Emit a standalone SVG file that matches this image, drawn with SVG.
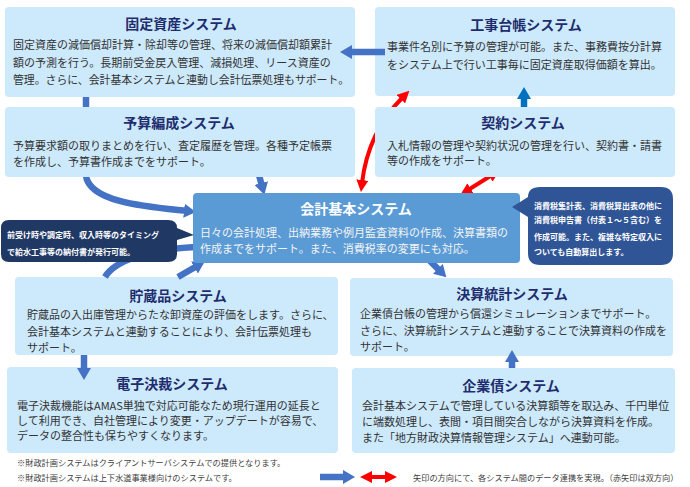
<svg xmlns="http://www.w3.org/2000/svg" width="690" height="487" viewBox="0 0 690 487">
<defs>
<marker id="bh" markerUnits="userSpaceOnUse" viewBox="0 0 12 14" markerWidth="12" markerHeight="14" refX="3" refY="7" orient="auto"><path d="M0,0 L12,7 L0,14 Z" fill="#4472c4"/></marker>
<marker id="bh2" markerUnits="userSpaceOnUse" viewBox="0 0 12 14" markerWidth="12" markerHeight="14" refX="3" refY="7" orient="auto"><path d="M0,0 L12,7 L0,14 Z" fill="#0070c0"/></marker>
<marker id="rh" markerUnits="userSpaceOnUse" viewBox="0 0 12 12" markerWidth="12" markerHeight="12" refX="3" refY="6" orient="auto-start-reverse"><path d="M0,0 L12,6 L0,12 Z" fill="#ff0000"/></marker>
</defs>
<style>
.box{fill:#cde9fc}
.main{fill:#5b9bd5}
.t{font-family:"Noto Sans CJK JP",sans-serif;font-size:14px;font-weight:bold;fill:#1f2d6e;text-anchor:middle}
.b{font-family:"Noto Sans CJK JP",sans-serif;font-size:11px;fill:#333333}
.mt{font-family:"Noto Sans CJK JP",sans-serif;font-size:14px;font-weight:bold;fill:#ffffff;text-anchor:middle}
.mb{font-family:"Noto Sans CJK JP",sans-serif;font-size:11px;fill:#f4f4f4}
.c{font-family:"Noto Sans CJK JP",sans-serif;font-size:8px;font-weight:bold;fill:#ffffff}
.n{font-family:"Noto Sans CJK JP",sans-serif;font-size:8.2px;fill:#404040}
.bl{fill:none;stroke:#4472c4;stroke-width:6.5}
.rd{fill:none;stroke:#ff0000;stroke-width:4}
</style>
<rect width="690" height="487" fill="#ffffff"/>

<g id="kotei">
<rect class="box" x="5" y="7" width="350" height="90" rx="4"/>
<text class="t" x="181" y="29">固定資産システム</text>
<text class="b" x="13" y="49">固定資産の減価償却計算・除却等の管理、将来の減価償却額累計</text>
<text class="b" x="13" y="67">額の予測を行う。長期前受金戻入管理、減損処理、リース資産の</text>
<text class="b" x="13" y="84" textLength="336" lengthAdjust="spacingAndGlyphs">管理。さらに、会計基本システムと連動し会計伝票処理もサポート。</text>
</g>
<g id="koji">
<rect class="box" x="375" y="7" width="300" height="89" rx="4"/>
<text class="t" x="526" y="30">工事台帳システム</text>
<text class="b" x="387" y="51">事業件名別に予算の管理が可能。また、事務費按分計算</text>
<text class="b" x="387" y="69">をシステム上で行い工事毎に固定資産取得価額を算出。</text>
</g>
<g id="chozo">
<rect class="box" x="15" y="277" width="323" height="78" rx="4"/>
<text class="t" x="178" y="301">貯蔵品システム</text>
<text class="b" x="27" y="319">貯蔵品の入出庫管理からたな卸資産の評価をします。さらに、</text>
<text class="b" x="27" y="336">会計基本システムと連動することにより、会計伝票処理も</text>
<text class="b" x="27" y="352">サポート。</text>
</g>
<g id="denshi">
<rect class="box" x="7" y="367" width="331" height="86" rx="4"/>
<text class="t" x="172" y="389">電子決裁システム</text>
<text class="b" x="17" y="410" fill="#262626">電子決裁機能はAMAS単独で対応可能なため現行運用の延長と</text>
<text class="b" x="17" y="425">して利用でき、自社管理により変更・アップデートが容易で、</text>
<text class="b" x="17" y="440">データの整合性も保ちやすくなります。</text>
</g>
<g id="kessan">
<rect class="box" x="350" y="278" width="323" height="78" rx="4"/>
<text class="t" x="512" y="299">決算統計システム</text>
<text class="b" x="360" y="318">企業債台帳の管理から償還シミュレーションまでサポート。</text>
<text class="b" x="360" y="335">さらに、決算統計システムと連動することで決算資料の作成を</text>
<text class="b" x="360" y="351">サポート。</text>
</g>
<g id="kigyosai">
<rect class="box" x="352" y="368" width="323" height="85" rx="4"/>
<text class="t" x="511" y="391">企業債システム</text>
<text class="b" x="362" y="410">会計基本システムで管理している決算額等を取込み、千円単位</text>
<text class="b" x="362" y="426">に端数処理し、表間・項目間突合しながら決算資料を作成。</text>
<text class="b" x="362" y="442">また「地方財政決算情報管理システム」へ連動可能。</text>
</g>

<g id="connectors">
<path class="bl" d="M385,52 L349,52" marker-end="url(#bh)"/>
<path class="bl" d="M86,97 L86,176 C90,203 150,207 187,211" marker-end="url(#bh)"/>
<path class="bl" d="M257,168 L262,186" marker-end="url(#bh)"/>
<path class="bl" d="M105,277 C115,260 150,249 196,247"/>
<path class="bl" d="M178,277 L197,266" marker-end="url(#bh)"/>
<path class="bl" d="M84,355 L84,371" marker-end="url(#bh)"/>
<path class="bl" d="M424,255 L440,271" marker-end="url(#bh)"/>
<path class="bl" d="M512,368 L512,359" marker-end="url(#bh)"/>
<path fill="none" stroke="#0070c0" stroke-width="6.5" d="M524,112 L524,96" marker-end="url(#bh2)"/>
<path class="rd" d="M362,183 Q368,132 403,97" marker-start="url(#rh)" marker-end="url(#rh)"/>
<path class="rd" d="M468,190 L492,175" marker-start="url(#rh)" marker-end="url(#rh)"/>
</g>

<g id="yosan">
<rect class="box" x="5" y="107" width="350" height="70" rx="4"/>
<text class="t" x="179" y="128">予算編成システム</text>
<text class="b" x="13" y="150">予算要求額の取りまとめを行い、査定履歴を管理。各種予定帳票</text>
<text class="b" x="13" y="166">を作成し、予算書作成までをサポート。</text>
</g>
<g id="keiyaku">
<rect class="box" x="375" y="107" width="300" height="70" rx="4"/>
<text class="t" x="523" y="128">契約システム</text>
<text class="b" x="387" y="150">入札情報の管理や契約状況の管理を行い、契約書・請書</text>
<text class="b" x="387" y="165">等の作成をサポート。</text>
</g>
<g id="kaikei">
<rect class="main" x="193" y="193" width="327" height="70" rx="4"/>
<text class="mt" x="356" y="214">会計基本システム</text>
<text class="mb" x="200" y="237">日々の会計処理、出納業務や例月監査資料の作成、決算書類の</text>
<text class="mb" x="200" y="253">作成までをサポート。また、消費税率の変更にも対応。</text>
</g>
<g id="callout-left">
<path d="M9,220 H168 Q177,220 177,228 L194,235 L177,240 V254 Q177,262 168,262 H9 Q1,262 1,254 V228 Q1,220 9,220 Z" fill="#203864"/>
<text class="c" x="7" y="238">前受け時や調定時、収入時等のタイミング</text>
<text class="c" x="7" y="255">で給水工事等の納付書が発行可能。</text>
</g>
<g id="callout-right">
<path d="M540,187 H661 Q673,187 673,199 V253 Q673,265 661,265 H540 Q528,265 528,253 V217 L512,207 L528,197 Q528,187 540,187 Z" fill="#2f5597"/>
<text class="c" x="534" y="209">消費税集計表、消費税算出表の他に</text>
<text class="c" x="534" y="223">消費税申告書（付表１～５含む）を</text>
<text class="c" x="534" y="240">作成可能。また、複雑な特定収入に</text>
<text class="c" x="534" y="255">ついても自動算出します。</text>
</g>

<g id="notes">
<text class="n" x="17" y="466">※財政計画システムはクライアントサーバシステムでの提供となります。</text>
<text class="n" x="17" y="481">※財政計画システムは上下水道事業様向けのシステムです。</text>
</g>
<g id="legend">
<path class="bl" d="M320,477 L346,477" marker-end="url(#bh)"/>
<path class="rd" d="M369,477 L388,477" marker-start="url(#rh)" marker-end="url(#rh)"/>
<text class="n" x="413" y="481">矢印の方向にて、各システム間のデータ連携を実現。（赤矢印は双方向）</text>
</g>
</svg>
